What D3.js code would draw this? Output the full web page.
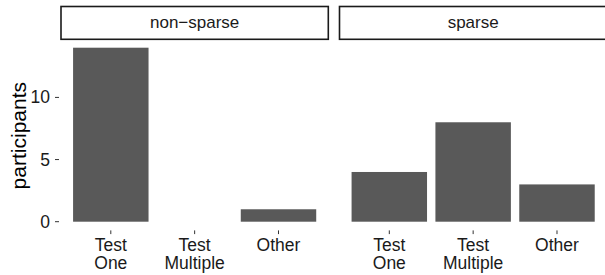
<!DOCTYPE html>
<html>
<head>
<meta charset="utf-8">
<script src="https://cdn.jsdelivr.net/npm/d3@7"></script>
<style>
  html, body { margin: 0; padding: 0; background: #fff; }
  svg { display: block; font-family: "Liberation Sans", Arial, Helvetica, sans-serif; }
</style>
</head>
<body>
<svg id="chart" width="605" height="275"></svg>
<script>
const facets = ["non\u2212sparse", "sparse"];
const categories = ["Test One", "Test Multiple", "Other"];
const categoryLines = [["Test", "One"], ["Test", "Multiple"], ["Other"]];
const nonSparseValues = [14, 0, 1];
const sparseValues = [4, 8, 3];
const yTicks = [0, 5, 10];
const yTitle = "participants";

const seriesByFacet = [nonSparseValues, sparseValues];

const svg = d3.select("#chart");
const panelLefts = [60.5, 339.0];
const panelW = 268.3;
const panelTop = 39.0, panelBottom = 230.4;
const stripTop = 6.5, stripBottom = 39.3;

const y = d3.scaleLinear().domain([-0.7, 14.7]).range([panelBottom, panelTop]);

const axisColor = "#333333";
const textColor = "#1a1a1a";
const tickFont = 17.5;
const stripFont = 17;

facets.forEach((f, i) => {
  const left = panelLefts[i];
  // discrete positions 1..3 with ggplot-style expansion (0.6 each side)
  const xc = d3.scaleLinear().domain([0.4, 3.6]).range([left, left + panelW]);
  const g = svg.append("g");
  g.append("rect")
    .attr("x", left + 0.5).attr("y", stripTop)
    .attr("width", panelW - 1).attr("height", stripBottom - stripTop)
    .attr("fill", "#ffffff").attr("stroke", "#1a1a1a").attr("stroke-width", 1.6);
  g.append("text")
    .attr("x", left + panelW / 2).attr("y", (stripTop + stripBottom) / 2)
    .attr("text-anchor", "middle").attr("dominant-baseline", "central")
    .attr("font-size", stripFont).attr("fill", textColor).text(f);
  const vals = seriesByFacet[i];
  g.selectAll("rect.bar").data(categories).enter().append("rect")
    .attr("class", "bar")
    .attr("x", (d, j) => xc(j + 1 - 0.45))
    .attr("width", (d, j) => xc(j + 1 + 0.45) - xc(j + 1 - 0.45))
    .attr("y", (d, j) => y(Math.max(vals[j], 0)))
    .attr("height", (d, j) => Math.abs(y(0) - y(vals[j])))
    .attr("fill", "#595959");
  categories.forEach((c, j) => {
    const cx = xc(j + 1);
    g.append("line").attr("x1", cx).attr("x2", cx)
      .attr("y1", panelBottom).attr("y2", panelBottom + 3.7)
      .attr("stroke", axisColor).attr("stroke-width", 1);
    const t = g.append("text").attr("text-anchor", "middle")
      .attr("font-size", tickFont).attr("fill", textColor);
    categoryLines[j].forEach((ln, k) => {
      t.append("tspan").attr("x", cx).attr("y", 251 + k * 18.2).text(ln);
    });
  });
});

const yg = svg.append("g");
yTicks.forEach(v => {
  yg.append("line").attr("x1", panelLefts[0] - 5.5).attr("x2", panelLefts[0] - 1.5)
    .attr("y1", y(v)).attr("y2", y(v))
    .attr("stroke", axisColor).attr("stroke-width", 1);
  yg.append("text").attr("x", panelLefts[0] - 10.5).attr("y", y(v))
    .attr("text-anchor", "end").attr("dominant-baseline", "central")
    .attr("font-size", tickFont).attr("fill", textColor).text(v);
});

svg.append("text")
  .attr("transform", `translate(25.5,${(panelTop + panelBottom) / 2 + 1}) rotate(-90)`)
  .attr("text-anchor", "middle")
  .attr("font-size", 21).attr("fill", "#000").text(yTitle);
</script>
</body>
</html>
